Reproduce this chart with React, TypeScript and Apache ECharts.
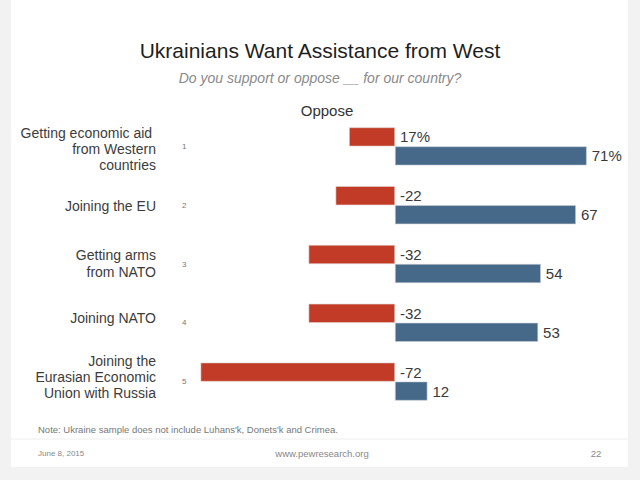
import React, { useEffect, useRef } from "react";
import * as echarts from "echarts";

const categories = [
  "Getting economic aid \nfrom Western\ncountries",
  "Joining the EU",
  "Getting arms\nfrom NATO",
  "Joining NATO",
  "Joining the\nEurasian Economic\nUnion with Russia",
];
const rowNumbers = ["1", "2", "3", "4", "5"];
const opposeValues = [17, 22, 32, 32, 72];
const supportValues = [71, 67, 54, 53, 12];

const titleText = "Ukrainians Want Assistance from West";
const subtitleText = "Do you support or oppose __ for our country?";
const opposeHeader = "Oppose";
const noteText = "Note: Ukraine sample does not include Luhans'k, Donets'k and Crimea.";
const dateText = "June 8, 2015";
const siteText = "www.pewresearch.org";
const pageText = "22";

const FONT = "'Liberation Sans', Arial, sans-serif";

// small vertical nudges of the category name blocks (layout only)
const labelPrefix = ["{sp5| }\n", "{sp1| }\n", "", "", ""];
const labelSuffix = ["", "", "\n{sp1| }", "\n{sp10| }", "\n{sp9| }"];

export default function App() {
  const ref = useRef<HTMLDivElement>(null);
  useEffect(() => {
    document.body.style.margin = "0";
    const chart = echarts.init(ref.current!, null, { renderer: "svg" });
    const option: any = {
      animation: false,
      backgroundColor: "#f2f2f2",
      textStyle: { fontFamily: FONT },
      graphic: [
        { type: "rect", z: -10, shape: { x: 11, y: 0, width: 617, height: 467 }, style: { fill: "#ffffff" } },
        { type: "line", shape: { x1: 11, y1: 439, x2: 628, y2: 439 }, style: { stroke: "#eeeeee", lineWidth: 1 } },
        {
          type: "text", x: 320, y: 50,
          style: { text: titleText, fill: "#1e1e1e", fontSize: 21, fontFamily: FONT, align: "center", verticalAlign: "middle" },
        },
        {
          type: "text", x: 320, y: 78,
          style: { text: subtitleText, fill: "#8a8a8a", fontSize: 14, fontStyle: "italic", fontFamily: FONT, align: "center", verticalAlign: "middle" },
        },
        {
          type: "text", x: 327, y: 110,
          style: { text: opposeHeader, fill: "#333333", fontSize: 15, fontFamily: FONT, align: "center", verticalAlign: "middle" },
        },
        {
          type: "text", x: 38, y: 429,
          style: { text: noteText, fill: "#777777", fontSize: 9.5, fontFamily: FONT, align: "left", verticalAlign: "middle" },
        },
        {
          type: "text", x: 38, y: 453,
          style: { text: dateText, fill: "#888888", fontSize: 8, fontFamily: FONT, align: "left", verticalAlign: "middle" },
        },
        {
          type: "text", x: 322, y: 453,
          style: { text: siteText, fill: "#888888", fontSize: 9.5, fontFamily: FONT, align: "center", verticalAlign: "middle" },
        },
        {
          type: "text", x: 596, y: 453,
          style: { text: pageText, fill: "#888888", fontSize: 9.5, fontFamily: FONT, align: "center", verticalAlign: "middle" },
        },
      ],
      grid: { left: 192.5, right: 15.5, top: 117, bottom: 69, containLabel: false },
      xAxis: {
        type: "value", min: -75, max: 85, show: false,
        splitLine: { show: false },
      },
      yAxis: [
        {
          type: "category", data: categories, inverse: true, position: "left",
          axisLine: { show: false }, axisTick: { show: false },
          axisLabel: {
            margin: 36.5, fontSize: 14, lineHeight: 16.2, color: "#3c3c3c", fontFamily: FONT, align: "right",
            formatter: (value: string, index: number) => `${labelPrefix[index]}${value}${labelSuffix[index]}`,
            rich: {
              sp1: { lineHeight: 1, fontSize: 1 },
              sp5: { lineHeight: 5, fontSize: 1 },
              sp9: { lineHeight: 9, fontSize: 1 },
              sp10: { lineHeight: 10, fontSize: 1 },
            },
          },
        },
        {
          type: "category", data: rowNumbers, inverse: true, position: "left",
          axisLine: { show: false }, axisTick: { show: false },
          axisLabel: { margin: 6, fontSize: 8, color: "#777777", fontFamily: FONT },
        },
      ],
      series: [
        {
          name: "Oppose", type: "bar", yAxisIndex: 0,
          data: opposeValues.map((v) => -v),
          barWidth: 19, barGap: "0%",
          itemStyle: { color: "#c23b26", borderColor: "#e0d0cc", borderWidth: 0.6 },
          label: {
            show: true, position: "right", distance: 5, fontSize: 15, color: "#3a3a3a", fontFamily: FONT,
            formatter: (p: any) => (p.dataIndex === 0 ? `${opposeValues[0]}%` : `${p.value}`),
          },
        },
        {
          name: "Support", type: "bar", yAxisIndex: 0,
          data: supportValues,
          barWidth: 19, barGap: "0%",
          itemStyle: { color: "#46698a", borderColor: "#c8ced4", borderWidth: 0.6 },
          label: {
            show: true, position: "right", distance: 5, fontSize: 15, color: "#3a3a3a", fontFamily: FONT,
            formatter: (p: any) => (p.dataIndex === 0 ? `${p.value}%` : `${p.value}`),
          },
        },
      ],
    };
    chart.setOption(option);
    return () => chart.dispose();
  }, []);
  return <div ref={ref} style={{ width: 640, height: 480 }} />;
}
